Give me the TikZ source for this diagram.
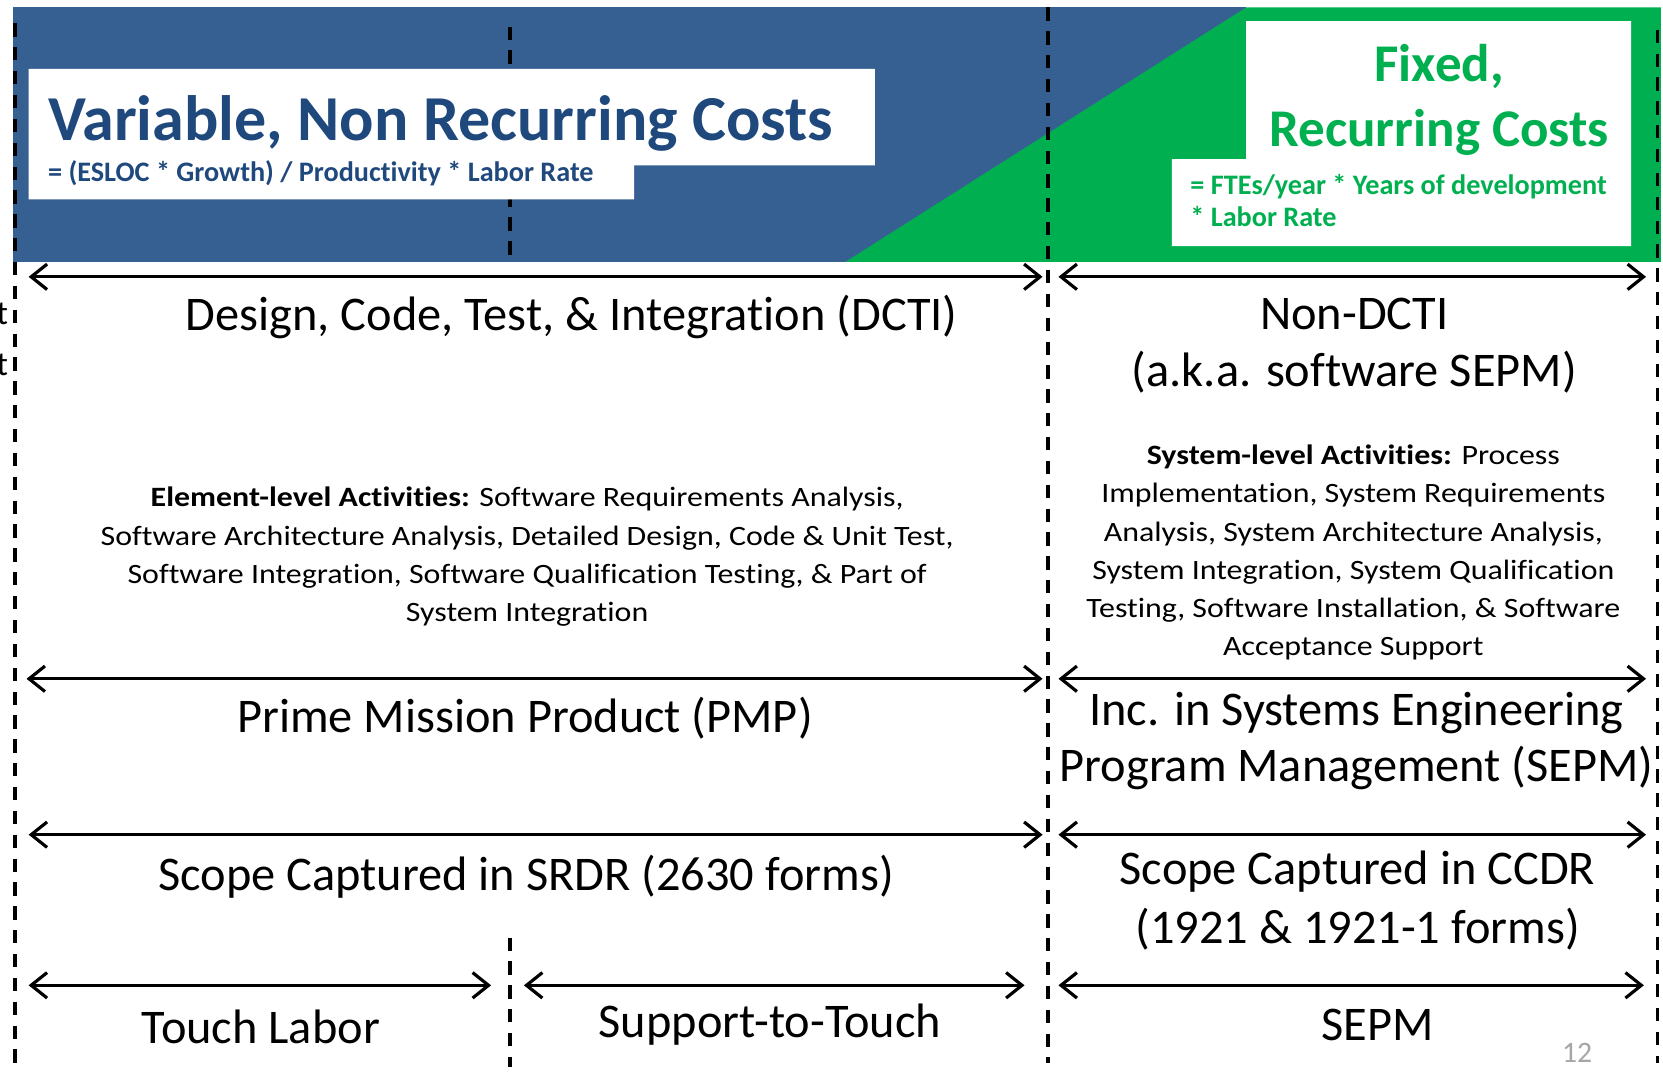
\documentclass[tikz,border=0pt]{standalone}
\usepackage{fontspec}
\setmainfont{Carlito}[Ligatures=NoCommon]
\newfontfamily\widefont{Carlito}[Ligatures=NoCommon, FakeStretch=1.14]
\usetikzlibrary{arrows.meta}
\definecolor{bannerblue}{HTML}{376092}
\definecolor{titleblue}{HTML}{1F497D}
\definecolor{costgreen}{HTML}{00B050}
\definecolor{pagegray}{HTML}{A6A6A6}
\begin{document}
\begin{tikzpicture}[x=0.5pt,y=-0.5pt,
  span/.style={line width=1.5pt,
    {Straight Barb[length=7.5pt,width=12pt,line width=1.5pt]}-{Straight Barb[length=7.5pt,width=12pt,line width=1.5pt]}},
  divider/.style={line width=1.6pt, dash pattern=on 6.25pt off 5pt},
  biglabel/.style={font=\fontsize{22.8}{26.5}\selectfont, align=center, inner sep=0pt},
  detail/.style={font=\widefont\fontsize{13.2}{18}\selectfont, align=center, inner sep=0pt},
  formula/.style={font=\bfseries\fontsize{13.3}{15.5}\selectfont, inner sep=0pt},
]
\useasboundingbox[fill=white] (0,0) rectangle (1568,1013);

% banner: variable (blue) and fixed (green) cost regions
\fill[bannerblue] (12,7) rectangle (1175,247);
\fill[costgreen] (797,247) -- (1175,7) -- (1566,7) -- (1566,247) -- cycle;

% divider inside the banner, behind the title panel
\coordinate (d2t) at (481,25);  \coordinate (d2b) at (481,247);
\draw[divider] (d2t) -- (d2b);

% white title panels
\fill[white] (27,65) -- (825,65) -- (825,156) -- (598,156) -- (598,188) -- (27,188) -- cycle;
\fill[white] (1175,20) -- (1538,20) -- (1538,232) -- (1105,232) -- (1105,150) -- (1175,150) -- cycle;

% titles and formulas
\node[anchor=base west, inner sep=0pt, text=titleblue, font=\bfseries\fontsize{30.2}{36}\selectfont]
  (vartitle) at (45,132) {Variable, Non Recurring Costs};
\node[anchor=base west, formula, text=titleblue] (varformula) at (45,171)
  {= (ESLOC * Growth) / Productivity * Labor Rate};
\node[anchor=base, inner sep=0pt, text=costgreen, font=\bfseries\fontsize{25}{30}\selectfont]
  (fixtitle1) at (1357,77) {Fixed,};
\node[anchor=base, inner sep=0pt, text=costgreen, font=\bfseries\fontsize{25}{30}\selectfont]
  (fixtitle2) at (1357,138) {Recurring Costs};
\node[anchor=base west, formula, text=costgreen] (fixformula1) at (1122,183)
  {= FTEs/year * Years of development};
\node[anchor=base west, formula, text=costgreen] (fixformula2) at (1122,214)
  {* Labor Rate};

% dashed column dividers
\coordinate (d1t) at (14,22);   \coordinate (d1b) at (14,1002);
\coordinate (d3t) at (481,884); \coordinate (d3b) at (481,1006);
\coordinate (d4t) at (988,7);   \coordinate (d4b) at (988,1002);
\coordinate (d5t) at (1563,28); \coordinate (d5b) at (1563,1002);
\draw[divider] (d1t) -- (d1b);
\draw[divider] (d3t) -- (d3b);
\draw[divider] (d4t) -- (d4b);
\draw[divider] (d5t) -- (d5b);

% span arrows
\coordinate (a1l) at (27,261);  \coordinate (a1r) at (983,261);
\coordinate (b1l) at (998,261); \coordinate (b1r) at (1552,261);
\coordinate (a2l) at (25,640);  \coordinate (a2r) at (983,640);
\coordinate (b2l) at (998,640); \coordinate (b2r) at (1552,640);
\coordinate (a3l) at (27,787);  \coordinate (a3r) at (983,787);
\coordinate (b3l) at (998,787); \coordinate (b3r) at (1552,787);
\coordinate (a4l) at (27,929);  \coordinate (a4r) at (463,929);
\coordinate (c4l) at (494,929); \coordinate (c4r) at (966,929);
\coordinate (b4l) at (998,929); \coordinate (b4r) at (1550,929);
\draw[span] (a1l) -- (a1r);
\draw[span] (b1l) -- (b1r);
\draw[span] (a2l) -- (a2r);
\draw[span] (b2l) -- (b2r);
\draw[span] (a3l) -- (a3r);
\draw[span] (b3l) -- (b3r);
\draw[span] (a4l) -- (a4r);
\draw[span] (c4l) -- (c4r);
\draw[span] (b4l) -- (b4r);

% labels
\node[biglabel] (dcti) at (539,299) {Design, Code, Test, \& Integration (DCTI)};
\node[biglabel] (nondcti) at (1277,326) {Non-DCTI\\(a.k.a. software SEPM)};
\node[detail] (element) at (497,525)
  {\textbf{Element-level Activities:} Software Requirements Analysis,\\
   Software Architecture Analysis, Detailed Design, Code \& Unit Test,\\
   Software Integration, Software Qualification Testing, \& Part of\\
   System Integration};
\node[detail] (system) at (1276,521)
  {\textbf{System-level Activities:} Process\\
   Implementation, System Requirements\\
   Analysis, System Architecture Analysis,\\
   System Integration, System Qualification\\
   Testing, Software Installation, \& Software\\
   Acceptance Support};
\node[biglabel] (pmp) at (495,677) {Prime Mission Product (PMP)};
\node[biglabel] (sepmscope) at (1279,699) {Inc. in Systems Engineering\\Program Management (SEPM)};
\node[biglabel] (srdr) at (496,827) {Scope Captured in SRDR (2630 forms)};
\node[biglabel, font=\fontsize{22.8}{27.5}\selectfont] (ccdr) at (1280,849) {Scope Captured in CCDR\\(1921 \& 1921-1 forms)};
\node[biglabel] (touch) at (246,968) {Touch Labor};
\node[biglabel] (support) at (726,966) {Support-to-Touch};
\node[biglabel] (sepm) at (1299,966) {SEPM};

% clipped letters at the left edge
\node[anchor=base east, inner sep=0pt, font=\fontsize{16}{16}\selectfont] (edge1) at (8,306) {t};
\node[anchor=base east, inner sep=0pt, font=\fontsize{16}{16}\selectfont] (edge2) at (8,354) {t};

% page number
\node[text=pagegray, font=\fontsize{14}{14}\selectfont] (pagenum) at (1487,993) {12};
\end{tikzpicture}
\end{document}
